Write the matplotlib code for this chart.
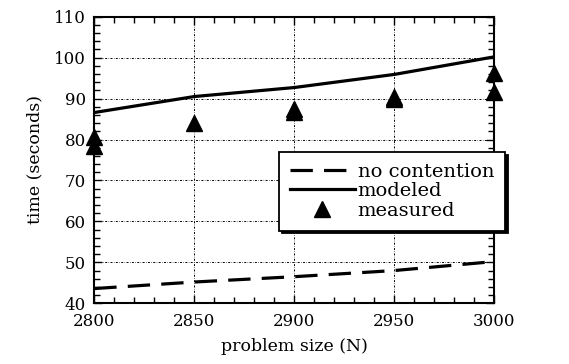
import matplotlib.pyplot as plt
from matplotlib.ticker import MultipleLocator

plt.rcParams['font.family'] = ['DejaVu Serif']

sizes = [2800, 2850, 2900, 2950, 3000]
no_contention = [43.6, 45.2, 46.5, 48.0, 50.2]
modeled = [86.6, 90.5, 92.7, 95.9, 100.2]

measured_x = [2800, 2800, 2850, 2900, 2900, 2950, 2950, 3000, 3000]
measured_y = [80.5, 78.3, 84.0, 87.5, 86.7, 90.3, 89.8, 96.3, 91.7]

fig = plt.figure(figsize=(5.69, 3.64), dpi=100)
ax = fig.add_axes([94.3 / 569, 1 - 303.3 / 364, 400 / 569, 286.6 / 364])

ax.plot(sizes, no_contention, color='black', lw=2.3, dashes=(7, 3.5),
        label='no contention')
ax.plot(sizes, modeled, color='black', lw=2.3, label='modeled')
ax.plot(measured_x, measured_y, '^', color='black', ms=11, clip_on=False,
        label='measured')

ax.set_xlim(2800, 3000)
ax.set_ylim(40, 110)
ax.xaxis.set_major_locator(MultipleLocator(50))
ax.xaxis.set_minor_locator(MultipleLocator(10))
ax.yaxis.set_major_locator(MultipleLocator(10))
ax.yaxis.set_minor_locator(MultipleLocator(2))
ax.tick_params(which='both', direction='in', top=True, right=True,
               labelsize=12, width=1)
ax.tick_params(which='major', length=6)
ax.tick_params(which='minor', length=4)
ax.tick_params(axis='x', pad=7)
ax.tick_params(axis='y', pad=6)
ax.grid(True, which='major', color='black', lw=0.7, ls=(0, (2, 1.5, 0.5, 1.5)))
for s in ax.spines.values():
    s.set_linewidth(1.5)

ax.set_xlabel('problem size (N)', fontsize=12.5, labelpad=6)
ax.set_ylabel('time (seconds)', fontsize=12.5, labelpad=8)

leg = ax.legend(loc='upper left', bbox_to_anchor=(279 / 569, 1 - 152 / 364),
                bbox_transform=fig.transFigure, fontsize=14, fancybox=False,
                shadow={'color': 'black', 'alpha': 1}, framealpha=1,
                edgecolor='black', handlelength=3.35, handletextpad=0.15,
                labelspacing=0.08, borderpad=0.55, borderaxespad=0)
leg.get_frame().set_linewidth(1.3)

fig.savefig('out.png', dpi=100)
